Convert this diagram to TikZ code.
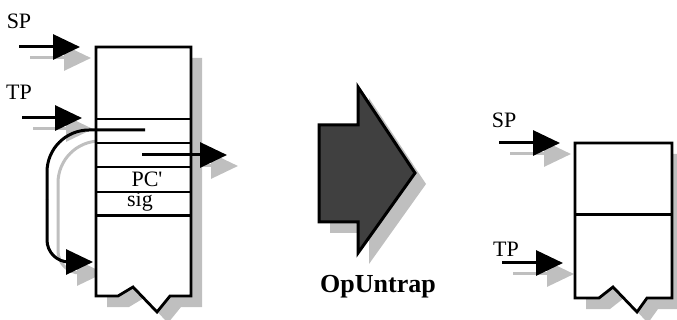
\documentclass[tikz,border=0pt]{standalone}
\usepackage{fontspec}
\setmainfont{Liberation Serif}
\usetikzlibrary{arrows.meta}
\tikzset{
  ghost/.style={fill=black!25,draw=none},
  ptr/.style={line width=3pt,-{Triangle[length=27pt,width=25pt]}},
  ghostptr/.style={ptr,draw=black!25},
  lbl/.style={font=\fontsize{22}{24}\selectfont,inner sep=0pt},
  frame/.style={line width=2.8pt,fill=white},
  row/.style={line width=2.3pt}
}
\newcommand{\lstack}{(96,47) -- (191,47) -- (191,296) -- (170,296) -- (157,312) -- (133,287) -- (118,296) -- (96,296) -- cycle}
\newcommand{\rstack}{(575,143) -- (672,143) -- (672,298) -- (647,298) -- (637,312) -- (613,287) -- (599,298) -- (575,298) -- cycle}
\newcommand{\bigarrow}{(319,125) -- (358,125) -- (358,87) -- (415,173) -- (358,253) -- (358,222) -- (319,222) -- cycle}
\begin{document}
\begin{tikzpicture}[x=1pt,y=-1pt]
\useasboundingbox (0,0) rectangle (677,320);
% arrow ends
\coordinate (lsp0) at (19,47);
\coordinate (lsp) at (80,47);
\coordinate (ltp0) at (22,118);
\coordinate (ltp) at (82,118);
\coordinate (rsp0) at (499,143);
\coordinate (rsp) at (560,143);
\coordinate (rtp0) at (502,263);
\coordinate (rtp) at (563,263);
\coordinate (jmp0) at (145,130);
\coordinate (bend) at (47,200);
\coordinate (jmp) at (93,262);
\coordinate (out0) at (142,155);
\coordinate (out) at (227,155);
% shadows
\begin{scope}[transform canvas={shift={(11pt,-11pt)}}]
\fill[ghost] \lstack;
\fill[ghost] \rstack;
\fill[ghost] \bigarrow;
\draw[ghostptr] (lsp0) -- (lsp);
\draw[ghostptr] (ltp0) -- (ltp);
\draw[ghostptr] (rsp0) -- (rsp);
\draw[ghostptr] (rtp0) -- (rtp);
\draw[ghostptr,-,rounded corners=42pt] (jmp0) -- (47,130) -- (bend);
\draw[ghostptr,rounded corners=22pt] (bend) -- (47,262) -- (jmp);
\draw[ghostptr] (out0) -- (out);
\end{scope}
% left stack
\draw[frame] \lstack;
\draw[row] (96,119) -- (191,119);
\draw[row] (96,143) -- (191,143);
\draw[row] (96,167) -- (191,167);
\draw[row] (96,192) -- (191,192);
\draw[row,line width=3pt] (96,216) -- (191,216);
\node[lbl,anchor=base] (pc) at (147,187) {PC\textquotesingle};
\node[lbl,anchor=base] (sig) at (140,207) {sig};
\draw[ptr,-,rounded corners=42pt] (jmp0) -- (47,130) -- (bend);
\draw[ptr,rounded corners=22pt] (bend) -- (47,262) -- (jmp);
\draw[ptr] (out0) -- (out);
\node[lbl] (sp1) at (19,21) {SP};
\node[lbl] (tp1) at (19,92) {TP};
\draw[ptr] (lsp0) -- (lsp);
\draw[ptr] (ltp0) -- (ltp);
% step
\draw[line width=3pt,fill=black!75] \bigarrow;
\node[font=\fontsize{26}{28}\selectfont\bfseries,anchor=base] (op) at (378,293) {OpUntrap};
% right stack
\draw[frame] \rstack;
\draw[row,line width=3pt] (575,215) -- (672,215);
\node[lbl] (sp2) at (504,120) {SP};
\node[lbl] (tp2) at (506,249) {TP};
\draw[ptr] (rsp0) -- (rsp);
\draw[ptr] (rtp0) -- (rtp);
\end{tikzpicture}
\end{document}
